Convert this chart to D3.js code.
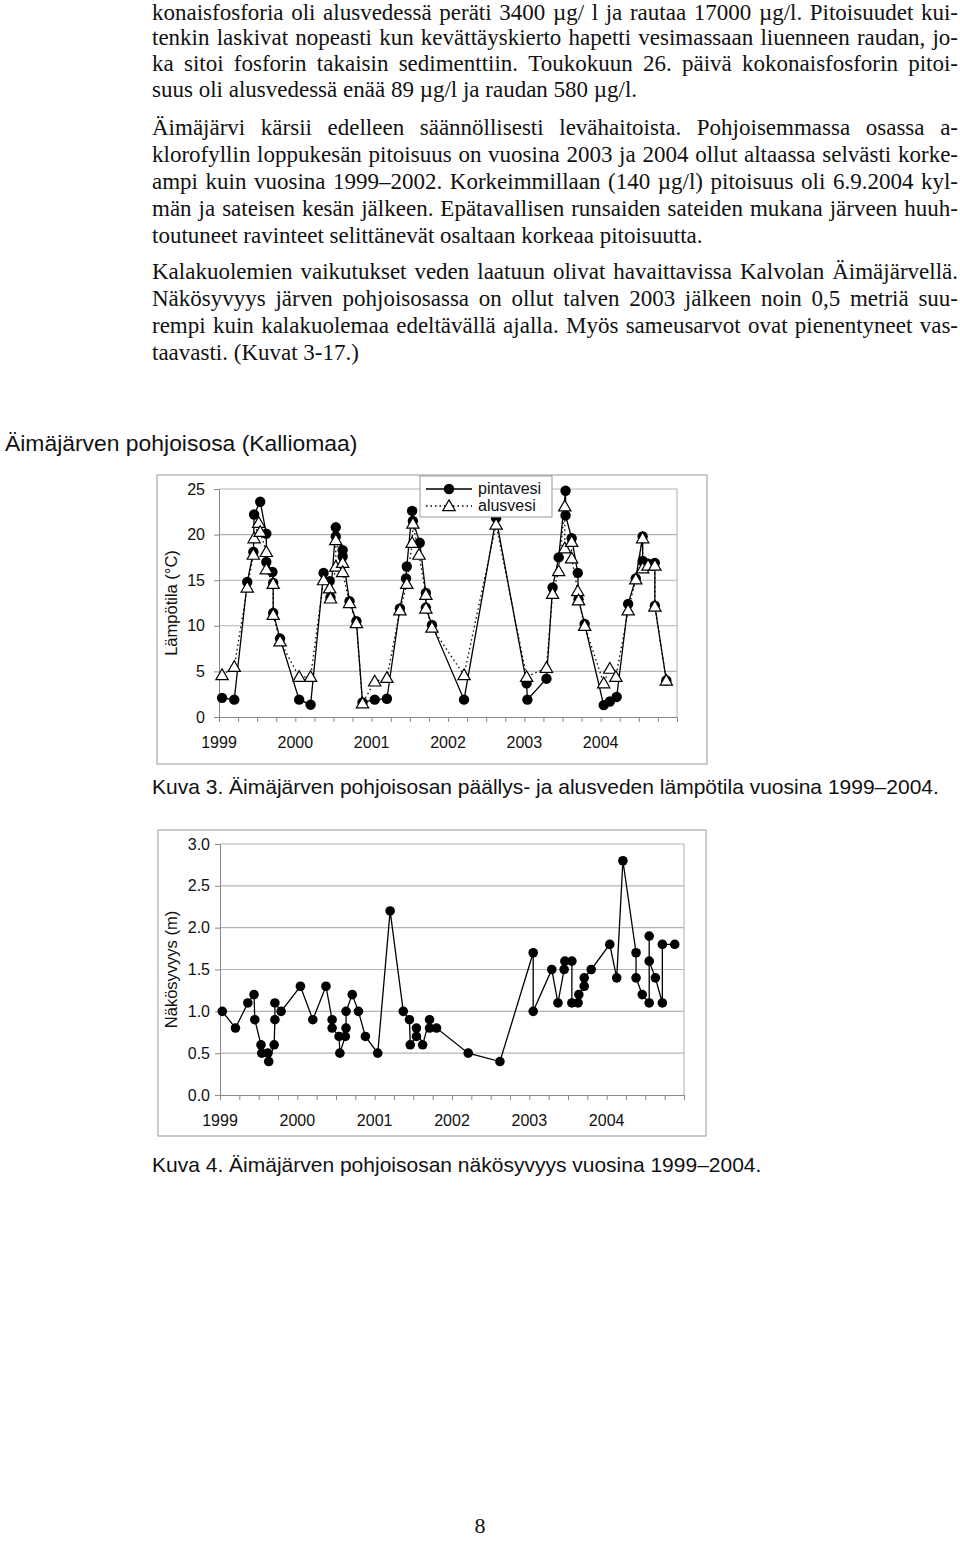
<!DOCTYPE html>
<html><head><meta charset="utf-8">
<script src="https://cdn.jsdelivr.net/npm/d3@7/dist/d3.min.js"></script>
<style>body{margin:0;background:#fff}svg{display:block}</style>
</head><body>
<svg id="page" width="960" height="1561"></svg>
<script>
// ---------- text ----------
const paragraph1 = [
  "konaisfosforia oli alusvedessä peräti 3400 µg/ l ja rautaa 17000 µg/l. Pitoisuudet kui-",
  "tenkin laskivat nopeasti kun kevättäyskierto hapetti vesimassaan liuenneen raudan, jo-",
  "ka sitoi fosforin takaisin sedimenttiin. Toukokuun 26. päivä kokonaisfosforin pitoi-",
  "suus oli alusvedessä enää 89 µg/l ja raudan 580 µg/l."
];
const paragraph2 = [
  "Äimäjärvi kärsii edelleen säännöllisesti levähaitoista. Pohjoisemmassa osassa a-",
  "klorofyllin loppukesän pitoisuus on vuosina 2003 ja 2004 ollut altaassa selvästi korke-",
  "ampi kuin vuosina 1999–2002. Korkeimmillaan (140 µg/l) pitoisuus oli 6.9.2004 kyl-",
  "män ja sateisen kesän jälkeen. Epätavallisen runsaiden sateiden mukana järveen huuh-",
  "toutuneet ravinteet selittänevät osaltaan korkeaa pitoisuutta."
];
const paragraph3 = [
  "Kalakuolemien vaikutukset veden laatuun olivat havaittavissa Kalvolan Äimäjärvellä.",
  "Näkösyvyys järven pohjoisosassa on ollut talven 2003 jälkeen noin 0,5 metriä suu-",
  "rempi kuin kalakuolemaa edeltävällä ajalla. Myös sameusarvot ovat pienentyneet vas-",
  "taavasti. (Kuvat 3-17.)"
];
const heading = "Äimäjärven pohjoisosa (Kalliomaa)";
const caption1 = "Kuva 3. Äimäjärven pohjoisosan päällys- ja alusveden lämpötila vuosina 1999–2004.";
const caption2 = "Kuva 4. Äimäjärven pohjoisosan näkösyvyys vuosina 1999–2004.";
const pageNumber = "8";

// ---------- data ----------
const yearLabels = ["1999","2000","2001","2002","2003","2004"];
const tempTicks = [0,5,10,15,20,25];
const secchiTicks = [0,0.5,1.0,1.5,2.0,2.5,3.0];
const seriesNames = ["pintavesi","alusvesi"];

// pintavesi (surface temperature, °C)
const surfaceDates = [1999.04,1999.20,1999.37,1999.45,1999.46,1999.54,1999.62,1999.62,1999.70,1999.71,1999.71,1999.80,
  2000.05,2000.20,2000.37,2000.45,2000.46,2000.53,2000.53,2000.62,2000.62,2000.71,2000.80,2000.88,
  2001.04,2001.20,2001.37,2001.45,2001.46,2001.53,2001.54,2001.63,2001.71,2001.71,2001.79,
  2002.21,2002.63,
  2003.03,2003.04,2003.29,2003.37,2003.45,2003.54,2003.54,2003.62,2003.70,2003.71,2003.79,
  2004.04,2004.12,2004.21,2004.36,2004.46,2004.55,2004.55,2004.62,2004.71,2004.71,2004.86];
const surfaceTemp = [2.1,1.9,14.8,18.1,22.2,23.6,20.1,17.0,15.9,14.7,11.4,8.6,
  1.9,1.35,15.8,14.9,13.1,20.8,19.8,18.3,17.6,12.7,10.5,1.6,
  1.9,2.0,11.9,15.2,16.5,22.6,21.5,19.1,13.6,12.0,10.1,
  1.9,21.8,
  3.7,1.9,4.2,14.2,17.5,24.8,22.1,19.6,15.8,12.9,10.2,
  1.3,1.7,2.2,12.4,15.2,19.8,17.1,16.8,16.9,12.2,4.0];

// alusvesi (bottom water temperature, °C)
const bottomDates = [1999.04,1999.20,1999.37,1999.45,1999.46,1999.52,1999.54,1999.62,1999.62,1999.71,1999.71,1999.80,
  2000.05,2000.20,2000.37,2000.45,2000.46,2000.53,2000.53,2000.62,2000.62,2000.71,2000.80,2000.88,
  2001.04,2001.20,2001.37,2001.46,2001.53,2001.54,2001.62,2001.71,2001.71,2001.79,
  2002.21,2002.63,
  2003.03,2003.29,2003.37,2003.45,2003.53,2003.53,2003.62,2003.62,2003.70,2003.71,2003.79,
  2004.04,2004.12,2004.20,2004.36,2004.46,2004.55,2004.55,2004.62,2004.71,2004.71,2004.86];
const bottomTemp = [4.6,5.5,14.2,17.8,19.6,21.3,20.3,18.1,16.2,14.6,11.2,8.3,
  4.4,4.4,15.0,14.1,13.0,16.5,19.4,16.9,15.9,12.5,10.3,1.5,
  3.9,4.3,11.7,14.6,19.1,21.2,17.8,13.4,11.9,9.8,
  4.6,21.1,
  4.4,5.4,13.5,16.0,23.1,18.5,19.2,17.4,13.8,12.8,10.0,
  3.7,5.3,4.4,11.7,15.1,19.6,16.3,16.6,16.6,12.1,4.0];

// näkösyvyys (Secchi depth, m)
const secchiDates = [1999.03,1999.20,1999.36,1999.44,1999.45,1999.53,1999.54,1999.62,1999.63,1999.70,1999.71,1999.71,1999.79,
  2000.04,2000.20,2000.37,2000.45,2000.45,2000.54,2000.55,2000.62,2000.63,2000.63,2000.71,2000.79,2000.88,
  2001.04,2001.20,2001.37,2001.45,2001.46,2001.54,2001.54,2001.62,2001.71,2001.71,2001.80,
  2002.21,2002.62,
  2003.05,2003.05,2003.29,2003.37,2003.45,2003.46,2003.55,2003.55,2003.63,2003.64,2003.71,2003.71,2003.80,
  2004.04,2004.13,2004.21,2004.38,2004.38,2004.46,2004.55,2004.55,2004.55,2004.63,2004.72,2004.72,2004.88];
const secchiValues = [1.0,0.8,1.1,1.2,0.9,0.6,0.5,0.5,0.4,0.6,0.9,1.1,1.0,
  1.3,0.9,1.3,0.9,0.8,0.7,0.5,0.7,0.8,1.0,1.2,1.0,0.7,
  0.5,2.2,1.0,0.9,0.6,0.7,0.8,0.6,0.9,0.8,0.8,
  0.5,0.4,
  1.7,1.0,1.5,1.1,1.5,1.6,1.6,1.1,1.1,1.2,1.3,1.4,1.5,
  1.8,1.4,2.8,1.7,1.4,1.2,1.1,1.9,1.6,1.4,1.1,1.8,1.8];

// ---------- drawing ----------
const svg = d3.select("#page");
const SERIF = "'Liberation Serif','Times New Roman',serif";
const SANS = "'Liberation Sans',Arial,Helvetica,sans-serif";

// body text with justification (word gaps widened to fill the column)
function drawParagraph(lines, baselines, x0, x1, size) {
  lines.forEach((line, i) => {
    const last = i === lines.length - 1;
    const words = line.split(" ");
    const t = svg.append("text").attr("font-family", SERIF).attr("font-size", size)
      .attr("y", baselines[i]).attr("fill", "#111");
    if (last) { t.attr("x", x0).text(line); return; }
    const widths = words.map(w => {
      const tmp = svg.append("text").attr("font-family", SERIF).attr("font-size", size).text(w);
      const wd = tmp.node().getComputedTextLength(); tmp.remove(); return wd;
    });
    const total = d3.sum(widths);
    const gap = (x1 - x0 - total) / (words.length - 1);
    let x = x0;
    words.forEach((w, k) => {
      t.append("tspan").attr("x", x).text(w);
      x += widths[k] + gap;
    });
  });
}
const bodySize = 23;
drawParagraph(paragraph1, [20, 45, 71, 97], 152, 958, bodySize);
drawParagraph(paragraph2, [135, 162, 189, 216, 243], 152, 958, bodySize);
drawParagraph(paragraph3, [279, 306, 333, 360], 152, 958, bodySize);

svg.append("text").attr("x", 5).attr("y", 451).attr("font-family", SANS)
  .attr("font-size", 22.9).attr("fill", "#111").text(heading);

function drawChart(cfg) {
  const g = svg.append("g");
  g.append("rect").attr("x", cfg.frame[0]).attr("y", cfg.frame[1])
    .attr("width", cfg.frame[2]).attr("height", cfg.frame[3])
    .attr("fill", "#fff").attr("stroke", "#a8a8a8").attr("stroke-width", 1.2);
  const x = cfg.x, y = cfg.y;
  const [xl, xr] = x.range(), [yb, yt] = y.range();
  g.append("g").selectAll("line").data(cfg.yTicks.filter(v => v > 0)).join("line")
    .attr("x1", xl).attr("x2", xr).attr("y1", d => y(d)).attr("y2", d => y(d))
    .attr("stroke", "#b4b4b4").attr("stroke-width", 1.1);
  g.append("line").attr("x1", xr).attr("x2", xr).attr("y1", yt).attr("y2", yb)
    .attr("stroke", "#b4b4b4").attr("stroke-width", 1.1);
  const ya = g.append("g").attr("transform", `translate(${xl},0)`)
    .call(d3.axisLeft(y).tickValues(cfg.yTicks).tickSize(5).tickPadding(cfg.yPad).tickFormat(cfg.yFmt));
  ya.select(".domain").attr("stroke", "#888");
  ya.selectAll(".tick line").attr("stroke", "#888");
  ya.selectAll("text").attr("font-family", SANS).attr("font-size", 16).attr("fill", "#111");
  const quarters = d3.range(1999, 2005.001, 0.25);
  const xa = g.append("g").attr("transform", `translate(0,${yb})`)
    .call(d3.axisBottom(x).tickValues(quarters).tickSize(5).tickFormat(() => ""));
  xa.select(".domain").attr("stroke", "#888");
  xa.selectAll(".tick line").attr("stroke", "#888");
  g.append("g").selectAll("text").data(yearLabels).join("text")
    .attr("x", d => x(+d)).attr("y", yb + cfg.labelDy).attr("text-anchor", "middle")
    .attr("font-family", SANS).attr("font-size", 16).attr("fill", "#111").text(d => d);
  g.append("text").attr("transform", `translate(${cfg.titleX},${(yb + yt) / 2}) rotate(-90)`)
    .attr("text-anchor", "middle").attr("font-family", SANS).attr("font-size", 16.5)
    .attr("fill", "#111").text(cfg.yTitle);
  return g;
}

// ---- chart 1: temperature ----
const x1 = d3.scaleLinear().domain([1999, 2005]).range([219, 677]);
const y1 = d3.scaleLinear().domain([0, 25]).range([717, 489]);
const g1 = drawChart({frame: [157, 475, 550, 289], x: x1, y: y1, yTicks: tempTicks,
  yFmt: d3.format("d"), yPad: 9, labelDy: 31, titleX: 177, yTitle: "Lämpötila (°C)"});

const surf = surfaceDates.map((d, i) => [d, surfaceTemp[i]]);
const bott = bottomDates.map((d, i) => [d, bottomTemp[i]]);
const line1 = d3.line().x(d => x1(d[0])).y(d => y1(d[1]));
g1.append("path").attr("d", line1(surf)).attr("fill", "none").attr("stroke", "#000").attr("stroke-width", 1.3);
g1.append("g").selectAll("circle").data(surf).join("circle")
  .attr("cx", d => x1(d[0])).attr("cy", d => y1(d[1])).attr("r", 5.2).attr("fill", "#000");
g1.append("path").attr("d", line1(bott)).attr("fill", "none").attr("stroke", "#000")
  .attr("stroke-width", 1.3).attr("stroke-dasharray", "1.5,3");
const tri = d3.symbol(d3.symbolTriangle).size(66);
g1.append("g").selectAll("path").data(bott).join("path")
  .attr("d", tri).attr("transform", d => `translate(${x1(d[0])},${y1(d[1]) + 1})`)
  .attr("fill", "#fff").attr("stroke", "#000").attr("stroke-width", 1.2);

// legend
const lg = g1.append("g");
lg.append("rect").attr("x", 420).attr("y", 476).attr("width", 132).attr("height", 41)
  .attr("fill", "#fff").attr("stroke", "#999").attr("stroke-width", 1);
lg.append("line").attr("x1", 426).attr("x2", 472).attr("y1", 489).attr("y2", 489)
  .attr("stroke", "#000").attr("stroke-width", 1.3);
lg.append("circle").attr("cx", 449).attr("cy", 489).attr("r", 5.2).attr("fill", "#000");
lg.append("line").attr("x1", 426).attr("x2", 472).attr("y1", 506).attr("y2", 506)
  .attr("stroke", "#000").attr("stroke-width", 1.3).attr("stroke-dasharray", "1.5,3");
lg.append("path").attr("d", tri).attr("transform", "translate(449,507)")
  .attr("fill", "#fff").attr("stroke", "#000").attr("stroke-width", 1.2);
lg.selectAll("text.lab").data(seriesNames).join("text")
  .attr("x", 478).attr("y", (d, i) => 494 + i * 17)
  .attr("font-family", SANS).attr("font-size", 16).attr("fill", "#111").text(d => d);

svg.append("text").attr("x", 152).attr("y", 794).attr("font-family", SANS)
  .attr("font-size", 21).attr("fill", "#111").text(caption1);

// ---- chart 2: Secchi depth ----
const x2 = d3.scaleLinear().domain([1999, 2005]).range([220, 684]);
const y2 = d3.scaleLinear().domain([0, 3]).range([1095, 844]);
const g2 = drawChart({frame: [158, 830, 548, 306], x: x2, y: y2, yTicks: secchiTicks,
  yFmt: d3.format(".1f"), yPad: 5, labelDy: 31, titleX: 177, yTitle: "Näkösyvyys (m)"});
const sec = secchiDates.map((d, i) => [d, secchiValues[i]]);
const line2 = d3.line().x(d => x2(d[0])).y(d => y2(d[1]));
g2.append("path").attr("d", line2(sec)).attr("fill", "none").attr("stroke", "#000").attr("stroke-width", 1.3);
g2.append("g").selectAll("circle").data(sec).join("circle")
  .attr("cx", d => x2(d[0])).attr("cy", d => y2(d[1])).attr("r", 4.8).attr("fill", "#000");

svg.append("text").attr("x", 152).attr("y", 1172).attr("font-family", SANS)
  .attr("font-size", 21).attr("fill", "#111").text(caption2);

svg.append("text").attr("x", 480).attr("y", 1533).attr("text-anchor", "middle")
  .attr("font-family", SERIF).attr("font-size", 22).attr("fill", "#111").text(pageNumber);
</script>
</body></html>
